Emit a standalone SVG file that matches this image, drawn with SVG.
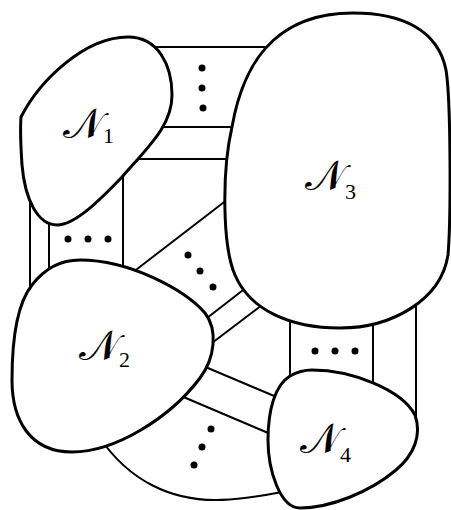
<svg xmlns="http://www.w3.org/2000/svg" width="451" height="510" viewBox="0 0 451 510">
  <style>
    .link { fill: none; stroke: #000; stroke-width: 2; }
    .blob { fill: #fff; stroke: #000; stroke-width: 3; }
    .dot { fill: #000; }
    .lbl { font-family: "DejaVu Serif", "Liberation Serif", serif; font-size: 42px; fill: #000; }
    .sub { font-family: "Liberation Serif", serif; font-size: 22px; }
  </style>
  <rect width="451" height="510" fill="#fff"/>

  <!-- connectors are drawn first; the filled blobs cover their ends -->
  <g id="connectors">
    <line class="link" x1="145" y1="47" x2="280" y2="47"/>
    <line class="link" x1="155" y1="127" x2="242" y2="127"/>
    <line class="link" x1="130" y1="159" x2="236" y2="159"/>
    <line class="link" x1="30" y1="190" x2="30" y2="296"/>
    <line class="link" x1="49" y1="212" x2="49" y2="272"/>
    <line class="link" x1="123" y1="168" x2="123" y2="276"/>
    <line class="link" x1="128" y1="276" x2="232" y2="196"/>
    <line class="link" x1="198" y1="325" x2="256" y2="280"/>
    <line class="link" x1="204" y1="349" x2="270" y2="299"/>
    <line class="link" x1="290" y1="310" x2="290" y2="388"/>
    <line class="link" x1="373" y1="318" x2="373" y2="392"/>
    <line class="link" x1="416" y1="298" x2="416" y2="430"/>
    <line class="link" x1="196" y1="363" x2="286" y2="401"/>
    <line class="link" x1="174" y1="393" x2="280" y2="438"/>
    <path class="link" d="M 100,438 C 130,482 172,500 215,500 C 240,500 262,496 287,491"/>
    <g class="dot">
      <circle cx="202" cy="68" r="3.5"/>
      <circle cx="202" cy="88" r="3.5"/>
      <circle cx="203" cy="108" r="3.5"/>
      <circle cx="68" cy="239" r="3.5"/>
      <circle cx="88" cy="239" r="3.5"/>
      <circle cx="108" cy="239" r="3.5"/>
      <circle cx="188" cy="255" r="3.5"/>
      <circle cx="200" cy="271" r="3.5"/>
      <circle cx="213" cy="287" r="3.5"/>
      <circle cx="315" cy="351" r="3.5"/>
      <circle cx="335" cy="351" r="3.5"/>
      <circle cx="355" cy="351" r="3.5"/>
      <circle cx="211" cy="429" r="3.5"/>
      <circle cx="202" cy="447" r="3.5"/>
      <circle cx="194" cy="465" r="3.5"/>
    </g>
  </g>

  <g id="N1">
    <path class="blob" d="M 21,117 C 40,80 85,37 128,37 C 158,37 172,65 172,95 C 172,125 150,145 122,177 C 100,200 75,225 57,225 C 38,225 25,200 22,165 C 21,150 20,130 21,117 Z"/>
    <text class="lbl" x="63" y="138">𝒩<tspan class="sub" dy="5">1</tspan></text>
  </g>

  <g id="N3">
    <path class="blob" d="M 353,13 C 402,13 438,30 446,70 C 451,100 451,220 448,255 C 441,300 392,328 340,328 C 290,328 250,310 235,275 C 222,245 222,170 232,127 C 242,70 270,13 353,13 Z"/>
    <text class="lbl" x="305" y="190">𝒩<tspan class="sub" dy="9">3</tspan></text>
  </g>

  <g id="N2">
    <path class="blob" d="M 80,260 C 130,260 185,290 205,313 C 218,330 215,358 200,378 C 170,418 115,452 72,452 C 30,452 12,420 12,380 C 12,330 20,300 32,285 C 45,268 60,260 80,260 Z"/>
    <text class="lbl" x="79" y="360">𝒩<tspan class="sub" dy="7">2</tspan></text>
  </g>

  <g id="N4">
    <path class="blob" d="M 312,370 C 352,370 402,390 415,415 C 422,435 414,455 396,470 C 370,492 330,508 300,508 C 280,508 268,470 268,440 C 268,410 275,385 290,376 C 297,372 305,370 312,370 Z"/>
    <text class="lbl" x="300" y="453">𝒩<tspan class="sub" dy="9">4</tspan></text>
  </g>
</svg>
